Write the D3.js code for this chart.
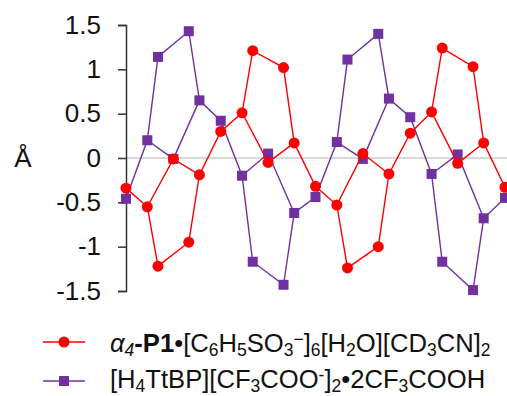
<!DOCTYPE html>
<html>
<head>
<meta charset="utf-8">
<script src="https://cdn.jsdelivr.net/npm/d3@7"></script>
<style>
  body { margin: 0; background: #fff; }
  svg { display: block; font-family: "Liberation Sans", Arial, sans-serif; }
</style>
</head>
<body>
<svg id="chart" width="507" height="396"></svg>
<script>
// x position of each atom along the chain (meso, a, b, b', a', meso, ...)
const chainX = [0, 1.8, 2.7, 5.3, 6.2, 8, 9.8, 10.7, 13.3, 14.2, 16, 17.8, 18.7, 21.3, 22.2, 24, 25.8, 26.7, 29.3, 30.2, 32]
// x position of the nitrogen of each ring
const nitrogenX = [4, 12, 20, 28]

const redChain = [-0.34, -0.55, -1.22, -0.95, -0.19, 0.30, 0.51, 1.21, 1.02, 0.17, -0.32, -0.53, -1.24, -1.00, -0.18, 0.28, 0.52, 1.24, 1.03, 0.17, -0.33]
const redN = [-0.01, -0.05, 0.05, -0.06]

const purpleChain = [-0.46, 0.20, 1.14, 1.43, 0.65, 0.42, -0.20, -1.17, -1.43, -0.62, -0.44, 0.18, 1.11, 1.40, 0.67, 0.46, -0.18, -1.17, -1.49, -0.68, -0.45]
const purpleN = [-0.01, 0.05, -0.01, 0.04]

const yTicks = [-1.5, -1, -0.5, 0, 0.5, 1, 1.5]
const yTickLabels = ['-1.5', '-1', '-0.5', '0', '0.5', '1', '1.5']

const RED = '#ff0000'
const PURPLE = '#7030a0'

const width = 507
const MARGIN = { top: 25, left: 126, right: 2, bottom: 105 }
const $svg = d3.select('#chart')

const xScale = d3.scaleLinear().domain([0, 32]).range([MARGIN.left, width - MARGIN.right])
const yScale = d3.scaleLinear().domain([-1.5, 1.5]).range([291, MARGIN.top])

// zero line
$svg.append('line')
  .attr('x1', xScale(0)).attr('x2', width)
  .attr('y1', yScale(0)).attr('y2', yScale(0))
  .attr('stroke', '#b4b4b4').attr('stroke-width', 1.2)

// y axis
const yAxis = d3.axisLeft(yScale)
  .tickValues(yTicks)
  .tickFormat((d, i) => yTickLabels[i])
  .tickSize(8)
  .tickPadding(17)
const $gy = $svg.append('g')
  .attr('transform', `translate(${xScale(0)},0)`)
  .call(yAxis)
$gy.select('.domain').attr('stroke', '#333').attr('stroke-width', 1.5)
$gy.selectAll('.tick line').attr('stroke', '#333').attr('stroke-width', 1.5)
$gy.selectAll('.tick text')
  .attr('fill', '#111')
  .style('font-size', '26px')
  .style('font-family', '"Liberation Sans", Arial, sans-serif')

$svg.append('text')
  .attr('x', 23).attr('y', yScale(0))
  .attr('dy', '0.35em')
  .attr('text-anchor', 'middle')
  .style('font-size', '26px')
  .attr('fill', '#111')
  .text('Å')

const line = d3.line().x(d => xScale(d[0])).y(d => yScale(d[1]))

function drawSeries(chain, nitro, color, shape) {
  const g = $svg.append('g')
  const chainPts = chainX.map((x, i) => [x, chain[i]])
  g.append('path')
    .attr('d', line(chainPts))
    .attr('fill', 'none').attr('stroke', color).attr('stroke-width', 1.4)
  // ring closure through the nitrogen: a -> N -> a'
  nitrogenX.forEach((x, r) => {
    const a = chainPts[5 * r + 1], b = chainPts[5 * r + 4]
    g.append('path')
      .attr('d', line([a, [x, nitro[r]], b]))
      .attr('fill', 'none').attr('stroke', color).attr('stroke-width', 1.4)
  })
  const allPts = chainPts.concat(nitrogenX.map((x, r) => [x, nitro[r]]))
  if (shape === 'circle') {
    g.selectAll('circle').data(allPts).enter().append('circle')
      .attr('cx', d => xScale(d[0])).attr('cy', d => yScale(d[1]))
      .attr('r', 5.5).attr('fill', color)
  } else {
    g.selectAll('rect').data(allPts).enter().append('rect')
      .attr('x', d => xScale(d[0]) - 5).attr('y', d => yScale(d[1]) - 5)
      .attr('width', 10).attr('height', 10).attr('fill', color)
  }
}

drawSeries(purpleChain, purpleN, PURPLE, 'square')
drawSeries(redChain, redN, RED, 'circle')

// legend
const $legend = $svg.append('g')
const legendRows = [
  { y: 342, color: RED, shape: 'circle' },
  { y: 381, color: PURPLE, shape: 'square' }
]
legendRows.forEach(row => {
  $legend.append('line')
    .attr('x1', 43).attr('x2', 85).attr('y1', row.y).attr('y2', row.y)
    .attr('stroke', row.color).attr('stroke-width', 1.4)
  if (row.shape === 'circle') {
    $legend.append('circle').attr('cx', 64).attr('cy', row.y).attr('r', 5.5).attr('fill', row.color)
  } else {
    $legend.append('rect').attr('x', 59).attr('y', row.y - 5).attr('width', 10).attr('height', 10).attr('fill', row.color)
  }
})

function addParts(textSel, parts) {
  parts.forEach(p => {
    const t = textSel.append('tspan').text(p.t)
    if (p.sub) t.attr('baseline-shift', '-22%').style('font-size', '17.5px')
    if (p.sup) t.attr('baseline-shift', '40%').style('font-size', '17.5px')
    if (p.b) t.style('font-weight', 'bold')
    if (p.i) t.style('font-style', 'italic')
  })
}

const t1 = $legend.append('text').attr('x', 110).attr('y', 352).style('font-size', '25.6px').attr('fill', '#111')
addParts(t1, [
  { t: 'α', i: true }, { t: '4', i: true, sub: true }, { t: '-P1', b: true },
  { t: '•[C' }, { t: '6', sub: true }, { t: 'H' }, { t: '5', sub: true }, { t: 'SO' }, { t: '3', sub: true },
  { t: '−', sup: true }, { t: ']' }, { t: '6', sub: true }, { t: '[H' }, { t: '2', sub: true },
  { t: 'O][CD' }, { t: '3', sub: true }, { t: 'CN]' }, { t: '2', sub: true }
])

const t2 = $legend.append('text').attr('x', 110).attr('y', 388).style('font-size', '25.6px').attr('fill', '#111')
addParts(t2, [
  { t: '[H' }, { t: '4', sub: true }, { t: 'TtBP][CF' }, { t: '3', sub: true }, { t: 'COO' },
  { t: '-', sup: true }, { t: ']' }, { t: '2', sub: true }, { t: '•2CF' }, { t: '3', sub: true }, { t: 'COOH' }
])
</script>
</body>
</html>
